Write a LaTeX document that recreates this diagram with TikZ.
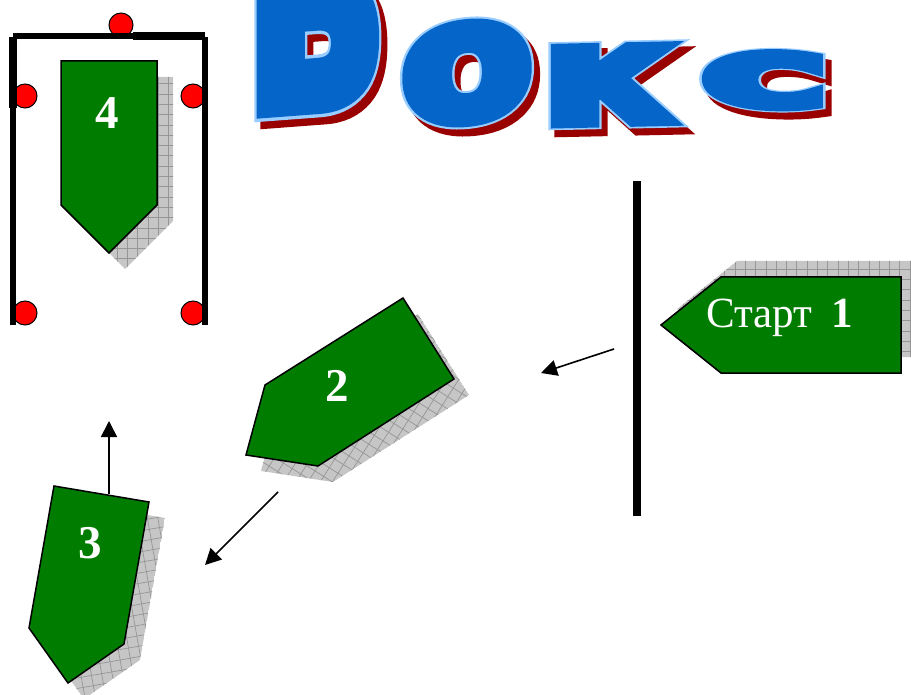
\documentclass[tikz,border=0pt]{standalone}
\usepackage{fontspec}
\usetikzlibrary{arrows.meta}
\setmainfont{Liberation Serif}
\newfontfamily\titlethin[FakeBold=8]{DejaVu Sans Bold}
\newfontfamily\titlewide[FakeBold=10.5]{DejaVu Sans Bold}
\definecolor{boatgreen}{HTML}{007C00}
\definecolor{shadowgray}{HTML}{C6C6C6}
\definecolor{gridgray}{HTML}{969696}
\definecolor{buoyred}{HTML}{FF0000}
\definecolor{wordblue}{HTML}{0565C8}
\definecolor{wordlight}{HTML}{99CCFF}
\definecolor{wordred}{HTML}{990000}
\tikzset{
  x=1pt,y=-1pt,
  boat/.style={draw=black,line width=1.5pt,fill=boatgreen,line join=miter},
  shade fill/.style={fill=shadowgray},
  grid line/.style={draw=gridgray,line width=0.7pt},
  boatnum/.style={text=white,font=\fontsize{47}{47}\selectfont\bfseries,inner sep=0pt},
  startlabel/.style={text=white,font=\fontsize{43}{43}\selectfont,inner sep=0pt,anchor=base west},
  buoy/.style={circle,draw=black,line width=1pt,fill=buoyred,minimum size=24pt,inner sep=0pt},
  rope/.style={draw=black,line cap=butt},
  course/.style={draw=black,line width=1.6pt,-{Triangle[length=16pt,width=16pt]}},
  letter/.style={inner sep=0pt,transform shape},
}
% \shadowpoly{angle}{path}: a hatched shadow with a grid turned by the angle
\newcommand{\shadowpoly}[2]{%
  \begin{scope}
    \clip #2;
    \fill[shade fill] #2;
    \begin{scope}[rotate=#1]
      \foreach \k in {-90,...,90}{
        \draw[grid line] (\k*10.3+220,-1100) -- (\k*10.3+220,1500);
        \draw[grid line] (-1100,\k*10.3+300) -- (1500,\k*10.3+300);
      }
    \end{scope}
  \end{scope}}
% \wordletter{name}{x}{y}{xscale}{yscale}{yslant}{letter}
\newcommand{\wordletter}[7]{%
  \node[letter,text=wordred] (#1s) at (#2+6,#3+7)
    [xscale=#4,yscale=#5,yslant=#6] {\titlewide\fontsize{100}{100}\selectfont #7};
  \node[letter,text=wordlight] (#1o) at (#2,#3)
    [xscale=#4,yscale=#5,yslant=#6] {\titlewide\fontsize{100}{100}\selectfont #7};
  \node[letter,text=wordblue] (#1) at (#2,#3)
    [xscale=#4,yscale=#5,yslant=#6] {\titlethin\fontsize{100}{100}\selectfont #7};}
\begin{document}
\begin{tikzpicture}
\useasboundingbox (0,0) rectangle (911,695);
\clip (0,0) rectangle (911,695);

% title
\wordletter{b}{316}{5}{1.8}{2.7}{0.05}{Б}
\wordletter{o}{467}{73}{1.9}{1.65}{0.1}{о}
\wordletter{k}{607}{85}{1.9}{1.35}{0.03}{к}
\wordletter{c}{765}{80}{2.15}{0.95}{-0.04}{с}

% buoys
\node[buoy] (b1) at (121,25) {};
\node[buoy] (b2) at (25,96) {};
\node[buoy] (b3) at (193,96) {};
\node[buoy] (b4) at (25,313) {};
\node[buoy] (b5) at (193,313) {};

% box
\draw[rope,line width=6pt] (13,36) -- (133,36);
\draw[rope,line width=8pt] (133,36.5) -- (205,36.5);
\draw[rope,line width=6pt] (13,37) -- (13,325);
\draw[rope,line width=8pt] (13,37) -- (13,108);
\draw[rope,line width=6pt] (204.5,37) -- (204.5,325);

% start line
\draw[rope,line width=8pt] (636.5,181) -- (636.5,516);

% boat 1
\shadowpoly{0}{(677,309) -- (737,261) -- (917,261) -- (917,357) -- (737,357) -- cycle}
\draw[boat] (661,325) -- (721,277) -- (901,277) -- (901,373) -- (721,373) -- cycle;
\node[startlabel] (s1) at (706,327) {Старт\hspace{0.45em}\textbf{1}};

% boat 2
\shadowpoly{-32.5}{(418,314) -- (469,395) -- (333,482) -- (261,471) -- (280,401) -- cycle}
\draw[boat] (403,298) -- (454,379) -- (318,466) -- (246,455) -- (265,385) -- cycle;
\node[boatnum] (s2) at (337,386) {2};

% boat 3
\shadowpoly{10}{(70,502) -- (165,518) -- (140,660) -- (84,699) -- (45,644) -- cycle}
\draw[boat] (54,486) -- (149,502) -- (124,644) -- (68,683) -- (29,628) -- cycle;
\node[boatnum] (s3) at (90,543) {3};

% boat 4
\shadowpoly{0}{(77,77) -- (173,77) -- (173,221) -- (125,269) -- (77,221) -- cycle}
\draw[boat] (61,61) -- (157,61) -- (157,205) -- (109,253) -- (61,205) -- cycle;
\node[boatnum] (s4) at (107,113) {4};

% courses
\coordinate (a1s) at (614,349); \coordinate (a1e) at (541,373);
\coordinate (a2s) at (278,492); \coordinate (a2e) at (205,565);
\coordinate (a3s) at (109,494); \coordinate (a3e) at (109,421);
\draw[course] (a1s) -- (a1e);
\draw[course] (a2s) -- (a2e);
\draw[course] (a3s) -- (a3e);
\end{tikzpicture}
\end{document}
